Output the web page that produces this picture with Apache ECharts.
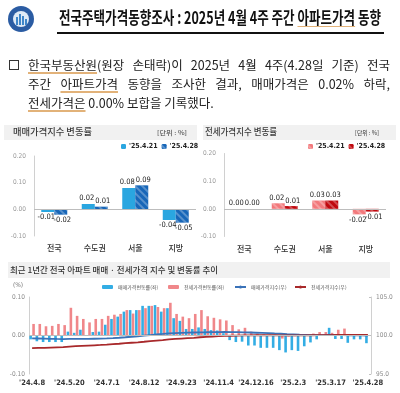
<!DOCTYPE html>
<html><head><meta charset="utf-8">
<script src="https://cdn.jsdelivr.net/npm/echarts@6.0.0/dist/echarts.min.js"></script>
<style>
html,body{margin:0;padding:0;background:#fff;}
#wrap{position:relative;width:400px;height:393px;overflow:hidden;font-family:'Noto Sans CJK KR','Noto Sans',sans-serif;color:#222;}
#chart{position:absolute;left:0;top:0;width:400px;height:393px;z-index:2;}
.abs{position:absolute;}
.t{position:absolute;white-space:nowrap;transform-origin:0 50%;z-index:3;}
.band{position:absolute;background:#f1f1f1;z-index:1;}
.ul{text-decoration:underline;text-decoration-color:#e2b279;text-decoration-thickness:1.5px;text-underline-offset:2px;}
</style></head>
<body>
<div id="wrap">
  <div class="band" style="left:4px;top:125px;width:193px;height:15px;"></div>
  <div class="band" style="left:203px;top:125px;width:193px;height:15px;"></div>
  <div class="band" style="left:8px;top:262px;width:382px;height:16px;"></div>
  <div id="chart"></div>

  <!-- logo -->
  <div class="abs" style="left:8px;top:6px;width:26px;height:26px;border-radius:50%;background:#2b5ca3;z-index:3;"></div>
  <div class="abs" style="left:13px;top:11px;width:16px;height:16px;border-radius:50%;background:#dfeaf6;z-index:3;"></div>
  <div class="abs" style="left:16px;top:17px;width:2px;height:8px;background:#3f86c9;z-index:4;"></div>
  <div class="abs" style="left:19px;top:14px;width:2px;height:11px;background:#3f86c9;z-index:4;"></div>
  <div class="abs" style="left:22px;top:16px;width:2px;height:9px;background:#3f86c9;z-index:4;"></div>
  <div class="abs" style="left:25px;top:19px;width:2px;height:6px;background:#3f86c9;z-index:4;"></div>

  <div class="t" id="title" data-w="322" style="left:59px;top:6px;font-size:17px;line-height:22px;font-weight:700;color:#111;">전국주택가격동향조사 : 2025년 4월 4주 주간 <span class="ul" style="text-decoration-thickness:1px;">아파트가격</span> 동향</div>
  <div class="abs" style="left:57px;top:31.5px;width:327px;height:2px;background:#111;z-index:3;"></div>

  <div class="abs" style="left:9px;top:59.5px;width:8px;height:8px;border:1px solid #333;z-index:3;"></div>
  <div class="t pj" data-w="362" style="left:28px;top:56px;font-size:12.5px;line-height:17px;"><span class="ul">한국부동산원</span>(원장 손태락)이 2025년 4월 4주(4.28일 기준) 전국</div>
  <div class="t pj" data-w="362" style="left:28px;top:75px;font-size:12.5px;line-height:17px;">주간 <span class="ul">아파트가격</span> 동향을 조사한 결과, 매매가격은 0.02% 하락,</div>
  <div class="t" style="left:28px;top:94px;font-size:12.5px;line-height:17px;"><span class="ul">전세가격은</span> 0.00% 보합을 기록했다.</div>

  <div class="t fit" data-w="79" style="left:13px;top:124px;font-size:9px;line-height:15px;font-weight:500;color:#3a3a3a;">매매가격지수 변동률</div>
  <div class="t fit" data-w="30" style="left:157px;top:127px;font-size:6px;line-height:11px;color:#333;">[단위 : %]</div>
  <div class="t fit" data-w="72" style="left:205px;top:124px;font-size:9px;line-height:15px;font-weight:500;color:#3a3a3a;">전세가격지수 변동률</div>
  <div class="t fit" data-w="24" style="left:355px;top:127px;font-size:6px;line-height:11px;color:#333;">[단위 : %]</div>
  <div class="t fit" data-w="208" style="left:10px;top:262px;font-size:8px;line-height:16px;font-weight:500;color:#333;">최근 1년간 전국 아파트 매매 · 전세가격 지수 및 변동률 추이</div>
</div>
<script>
// ---------- data ----------
const regions = ['전국', '수도권', '서울', '지방'];
const saleLabels = ["'25.4.21", "'25.4.28"];
const sale0421 = [-0.01, 0.02, 0.08, -0.04];
const sale0428 = [-0.02, 0.01, 0.09, -0.05];
const jeonse0421 = [0.00, 0.02, 0.03, -0.02];
const jeonse0428 = [0.00, 0.01, 0.03, -0.01];

const weeks = ["'24.4.8","'24.4.15","'24.4.22","'24.4.29","'24.5.6","'24.5.13","'24.5.20","'24.5.27","'24.6.3","'24.6.10","'24.6.17","'24.6.24",
"'24.7.1","'24.7.8","'24.7.15","'24.7.22","'24.7.29","'24.8.5","'24.8.12","'24.8.19","'24.8.26","'24.9.2","'24.9.9","'24.9.16",
"'24.9.23","'24.9.30","'24.10.7","'24.10.14","'24.10.21","'24.10.28","'24.11.4","'24.11.11","'24.11.18","'24.11.25","'24.12.2","'24.12.9",
"'24.12.16","'24.12.23","'24.12.30","'25.1.6","'25.1.13","'25.1.20","'25.2.3","'25.2.10","'25.2.17","'25.2.24","'25.3.3","'25.3.10",
"'25.3.17","'25.3.24","'25.3.31","'25.4.7","'25.4.14","'25.4.21","'25.4.28"];
const saleChg = [-0.010,-0.015,-0.017,-0.017,-0.017,-0.017,0.010,0.007,0.015,0.000,0.009,0.010,
0.028,0.043,0.049,0.062,0.066,0.066,0.077,0.077,0.079,0.062,0.071,0.045,
0.038,0.017,0.017,0.021,0.017,0.014,0.013,0.006,-0.012,-0.017,-0.016,-0.026,
-0.026,-0.032,-0.032,-0.032,-0.038,-0.044,-0.038,-0.040,-0.028,-0.018,-0.010,0.000,
0.020,-0.009,-0.009,-0.019,-0.010,-0.010,-0.020];
const jeonseChg = [0.030,0.030,0.024,0.025,0.030,0.027,0.072,0.051,0.043,0.034,0.043,0.043,
0.051,0.054,0.056,0.066,0.057,0.066,0.071,0.077,0.074,0.071,0.085,0.056,
0.049,0.045,0.056,0.066,0.050,0.046,0.042,0.039,0.027,0.016,0.020,0.010,
0.005,0.003,0.002,0.000,-0.008,-0.003,-0.002,0.000,0.002,0.005,0.009,0.009,
0.007,0.015,0.018,0.000,0.000,0.000,0.000];
const saleIdx = [99.62,99.61,99.59,99.57,99.55,99.54,99.55,99.55,99.57,99.57,99.58,99.59,
99.62,99.66,99.71,99.77,99.84,99.90,99.98,100.06,100.14,100.20,100.27,100.31,
100.35,100.37,100.39,100.41,100.42,100.44,100.45,100.46,100.44,100.43,100.41,100.39,
100.36,100.33,100.30,100.26,100.23,100.18,100.14,100.10,100.08,100.06,100.05,100.05,
100.07,100.06,100.05,100.03,100.02,100.01,99.99];
const jeonseIdx = [98.35,98.38,98.40,98.43,98.46,98.49,98.56,98.61,98.65,98.69,98.73,98.77,
98.82,98.88,98.93,99.00,99.06,99.12,99.19,99.27,99.34,99.41,99.50,99.55,
99.60,99.65,99.70,99.77,99.82,99.86,99.91,99.95,99.97,99.99,100.01,100.02,
100.03,100.03,100.03,100.03,100.02,100.02,100.02,100.02,100.02,100.03,100.04,100.04,
100.05,100.07,100.09,100.09,100.09,100.09,100.09];
const bottomNames = ['매매가격변동률(좌)', '전세가격변동률(좌)', '매매가격지수(우)', '전세가격지수(우)'];

// ---------- text fitting ----------
function fitAll(){
  document.querySelectorAll('.fit, #title').forEach(el=>{
    el.style.transform='';
    const w = el.getBoundingClientRect().width;
    el.style.transform = 'scaleX(' + (parseFloat(el.dataset.w)/w) + ')';
  });
  document.querySelectorAll('.pj').forEach(el=>{
    el.style.transform=''; el.style.wordSpacing='';
    const target = parseFloat(el.dataset.w);
    const w = el.getBoundingClientRect().width;
    const spaces = (el.textContent.match(/ /g)||[]).length;
    if (w > target) el.style.transform = 'scaleX(' + (target/w) + ')';
    else if (spaces) el.style.wordSpacing = ((target-w)/spaces) + 'px';
  });
}
fitAll();

// ---------- chart ----------
const chart = echarts.init(document.getElementById('chart'), null, {renderer:'canvas'});
const numFont = "'Liberation Sans Narrow','DejaVu Sans Condensed','Roboto',sans-serif";
const krFont = "'Noto Sans CJK KR',sans-serif";
const hatch = {symbol:'rect', symbolSize:1, dashArrayX:[1,0], dashArrayY:[1.2,2.2], rotation:Math.PI/4, color:'rgba(255,255,255,0.28)'};

function barData(arr){
  return arr.map(v=>({value:v, label:{position: v<0?'bottom':'top'}}));
}
function topBar(name, data, color, xi, decal, dx){
  return {
    name, type:'bar', xAxisIndex:xi, yAxisIndex:xi, data:barData(data), barWidth:13, barGap:'0%',
    itemStyle:{color, decal: decal ? hatch : undefined},
    label:{show:true, formatter:p=>p.value.toFixed(2), fontSize:7.5, color:'#222', fontFamily:numFont, distance:1.5, offset:[dx,0]},
    z:3
  };
}
const zeroLine = {silent:true, symbol:'none', data:[{yAxis:0}], label:{show:false}, lineStyle:{color:'#bdbdbd', width:1, type:'solid'}, emphasis:{disabled:true}};

function topY(gi){
  return {gridIndex:gi, type:'value', min:-0.1, max:0.2, interval:0.1,
    axisLabel:{formatter:v=>v.toFixed(2), fontSize:6.5, color:'#9a9a9a', margin:8, fontFamily:numFont},
    axisLine:{show:true, lineStyle:{color:'#d0d0d0'}}, axisTick:{show:false}, splitLine:{show:false}};
}
function topX(gi){
  return {gridIndex:gi, type:'category', data:regions, axisLine:{show:false, onZero:false}, axisTick:{show:false},
    axisLabel:{fontSize:8, color:'#333', margin:8, fontFamily:krFont, fontWeight:500}};
}

const option = {
  animation:false,
  grid:[
    {left:34, top:156, width:162, height:80},
    {left:224, top:153.5, width:162, height:83},
    {left:29, top:297, width:342, height:77}
  ],
  xAxis:[topX(0), topX(1),
    {gridIndex:2, type:'category', data:weeks, boundaryGap:true, axisLine:{show:false, onZero:false}, axisTick:{show:false},
     axisLabel:{interval:5, fontSize:7.5, color:'#333', margin:5, fontFamily:numFont, fontWeight:'bold'}}],
  yAxis:[topY(0), topY(1),
    {gridIndex:2, type:'value', min:-0.1, max:0.1, interval:0.1,
     axisLabel:{formatter:v=>v.toFixed(2), fontSize:6.5, color:'#8a8a8a', margin:4, fontFamily:numFont},
     axisLine:{show:true, lineStyle:{color:'#d0d0d0'}}, axisTick:{show:false}, splitLine:{show:false}},
    {gridIndex:2, type:'value', position:'right', min:95, max:105, interval:5,
     axisLabel:{formatter:v=>v.toFixed(1), fontSize:6.5, color:'#8a8a8a', margin:5, fontFamily:numFont},
     axisLine:{show:true, lineStyle:{color:'#d0d0d0'}}, axisTick:{show:true, length:2, inside:true, lineStyle:{color:'#c0c0c0'}}, splitLine:{show:false}}
  ],
  legend:[
    {left:121, top:143, itemWidth:5, itemHeight:5, itemGap:4, padding:0, data:['S1','S2'],
     formatter:n=>n==='S1'?saleLabels[0]:saleLabels[1], textStyle:{fontSize:7, color:'#222', fontFamily:numFont, fontWeight:'bold', padding:[0,0,0,-2]}},
    {left:308, top:143, itemWidth:5, itemHeight:5, itemGap:4, padding:0, data:['J1','J2'],
     formatter:n=>n==='J1'?saleLabels[0]:saleLabels[1], textStyle:{fontSize:7, color:'#222', fontFamily:numFont, fontWeight:'bold', padding:[0,0,0,-2]}},
    {left:102, top:284.5, itemWidth:11, itemHeight:4, padding:0, data:[bottomNames[0]], textStyle:{fontSize:5, color:'#555', fontFamily:krFont}},
    {left:168, top:284.5, itemWidth:11, itemHeight:4, padding:0, data:[bottomNames[1]], textStyle:{fontSize:5, color:'#555', fontFamily:krFont}},
    {left:234, top:284.5, itemWidth:11, itemHeight:4, padding:0, data:[bottomNames[2]], textStyle:{fontSize:5, color:'#555', fontFamily:krFont}},
    {left:294, top:284.5, itemWidth:11, itemHeight:4, padding:0, data:[bottomNames[3]], textStyle:{fontSize:5, color:'#555', fontFamily:krFont}}
  ],
  graphic:[
    {type:'text', left:13, top:282, style:{text:'(%)', fontSize:6.5, fill:'#777', fontFamily:numFont}}
  ],
  series:[
    Object.assign(topBar('S1', sale0421, '#2aa6e0', 0, false, -1.5), {markLine:zeroLine}),
    topBar('S2', sale0428, '#1766b8', 0, true, 1.5),
    Object.assign(topBar('J1', jeonse0421, '#f2797c', 1, true, -1.5), {markLine:zeroLine}),
    topBar('J2', jeonse0428, '#c0080e', 1, true, 1.5),
    {name:bottomNames[0], type:'bar', xAxisIndex:2, yAxisIndex:2, data:saleChg, barWidth:2.6, barGap:'12%',
     itemStyle:{color:'#33ade4'}, markLine:zeroLine, z:2},
    {name:bottomNames[1], type:'bar', xAxisIndex:2, yAxisIndex:2, data:jeonseChg, barWidth:2.6, barGap:'12%',
     itemStyle:{color:'#f0878a'}, z:2},
    {name:bottomNames[2], type:'line', xAxisIndex:2, yAxisIndex:3, data:saleIdx, symbol:'none', showSymbol:false,
     lineStyle:{color:'#3a72b8', width:1.8}, itemStyle:{color:'#3a72b8'}, z:4},
    {name:bottomNames[3], type:'line', xAxisIndex:2, yAxisIndex:3, data:jeonseIdx, symbol:'none', showSymbol:false,
     lineStyle:{color:'#a8292b', width:1.8}, itemStyle:{color:'#a8292b'}, z:4}
  ]
};
chart.setOption(option);
if (document.fonts && document.fonts.ready) document.fonts.ready.then(fitAll);
</script>
</body></html>
